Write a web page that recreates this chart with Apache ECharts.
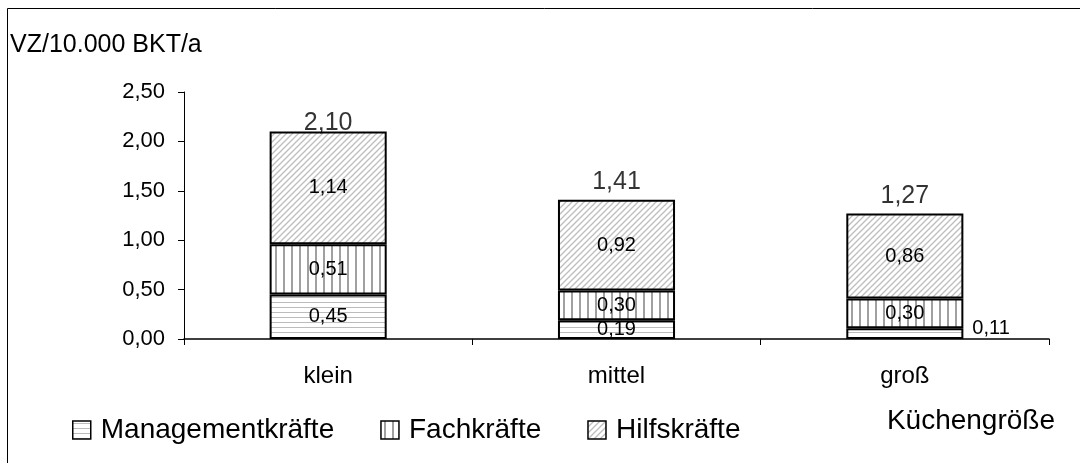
<!DOCTYPE html>
<html><head><meta charset="utf-8">
<script src="https://cdn.jsdelivr.net/npm/echarts@6/dist/echarts.min.js"></script>
<style>html,body{margin:0;padding:0;background:#fff}#c{width:1080px;height:463px}</style>
</head><body><div id="c"></div>
<script>
const categories = ['klein', 'mittel', 'groß'];
const management = [0.45, 0.19, 0.11];
const fach = [0.51, 0.30, 0.30];
const hilfs = [1.14, 0.92, 0.86];
const seriesNames = ['Managementkräfte', 'Fachkräfte', 'Hilfskräfte'];
const yTicks = [0, 0.5, 1, 1.5, 2, 2.5];

const FONT = '"Liberation Sans", Arial, sans-serif';
const fmt = v => v.toFixed(2).replace('.', ',');

function pat(kind) {
  const c = document.createElement('canvas');
  const ctx = c.getContext('2d');
  if (kind === 'h') {
    c.width = 8; c.height = 5;
    ctx.fillStyle = '#fff'; ctx.fillRect(0, 0, 8, 5);
    ctx.fillStyle = '#bcbcbc'; ctx.fillRect(0, 2, 8, 1);
  } else if (kind === 'v') {
    c.width = 8; c.height = 8;
    ctx.fillStyle = '#fff'; ctx.fillRect(0, 0, 8, 8);
    ctx.fillStyle = '#a0a0a0'; ctx.fillRect(3, 0, 2, 8);
  } else {
    c.width = 6; c.height = 6;
    ctx.fillStyle = '#fff'; ctx.fillRect(0, 0, 6, 6);
    ctx.strokeStyle = '#bdbdbd'; ctx.lineWidth = 1.3;
    ctx.beginPath();
    ctx.moveTo(-1, 7); ctx.lineTo(7, -1);
    ctx.moveTo(-4, 4); ctx.lineTo(4, -4);
    ctx.moveTo(2, 10); ctx.lineTo(10, 2);
    ctx.stroke();
  }
  return { image: c, repeat: 'repeat' };
}
const patterns = [pat('h'), pat('v'), pat('d')];

const totals = categories.map((_, i) => +(management[i] + fach[i] + hilfs[i]).toFixed(2));

const segLabel = { show: true, position: 'inside', color: '#000', fontFamily: FONT, fontSize: 20, formatter: p => fmt(p.value) };

const mgmtData = management.map((v, i) => v < 0.15 ? { value: v, label: { position: 'right', distance: 9, offset: [0, -5] } } : v);
const totalData = totals.map((v, i) => i === 0 ? { value: v, label: { distance: -4 } } : v);

function barSeries(name, data, idx) {
  return {
    name, type: 'bar', stack: 'a', data, barWidth: '40.6%',
    itemStyle: { color: patterns[idx], borderColor: '#000', borderWidth: 2 },
    label: segLabel, emphasis: { disabled: true }
  };
}

const chart = echarts.init(document.getElementById('c'), null, { renderer: 'canvas' });
chart.setOption({
  animation: false,
  backgroundColor: '#fff',
  grid: { left: 184, right: 31, top: 92, bottom: 124, containLabel: false },
  title: { text: 'VZ/10.000 BKT/a', left: 10, top: 33, padding: 0, textStyle: { fontFamily: FONT, fontSize: 25, fontWeight: 'normal', color: '#000' } },
  legend: {
    left: 72, top: 416, padding: 0, itemWidth: 18, itemHeight: 18, itemGap: 46,
    icon: 'rect',
    textStyle: { fontFamily: FONT, fontSize: 28, color: '#000', padding: [0, 0, 0, 5] },
    itemStyle: { borderColor: '#000', borderWidth: 1.5 },
    data: seriesNames
  },
  xAxis: {
    type: 'category', data: categories,
    axisLine: { lineStyle: { color: '#000', width: 1.5 } },
    axisTick: { show: true, length: 6, lineStyle: { color: '#000' } },
    axisLabel: { fontFamily: FONT, fontSize: 24, color: '#000', margin: 25 },
    name: 'Küchengröße', nameLocation: 'end',
    nameTextStyle: { fontFamily: FONT, fontSize: 28, color: '#000', align: 'right', verticalAlign: 'top', padding: [68, 0, 0, 0] },
    nameGap: 6
  },
  yAxis: {
    type: 'value', min: 0, max: 2.5, interval: 0.5,
    axisLine: { show: true, lineStyle: { color: '#000', width: 1 } },
    axisTick: { show: true, length: 6, lineStyle: { color: '#000' } },
    splitLine: { show: false },
    axisLabel: { fontFamily: FONT, fontSize: 22, color: '#000', margin: 19, formatter: v => fmt(v) }
  },
  series: [
    barSeries(seriesNames[0], mgmtData, 0),
    barSeries(seriesNames[1], fach, 1),
    barSeries(seriesNames[2], hilfs, 2),
    {
      type: 'scatter', data: totalData, symbolSize: 0, silent: true,
      label: { show: true, position: 'top', distance: 5, color: '#000', fontFamily: FONT, fontSize: 25, formatter: p => fmt(p.value) },
      tooltip: { show: false }
    }
  ],
  graphic: [{ type: 'rect', shape: { x: 7.5, y: 8.5, width: 1200, height: 600 }, style: { fill: 'none', stroke: '#000', lineWidth: 1 }, silent: true, z: 100 }]
});
</script></body></html>
